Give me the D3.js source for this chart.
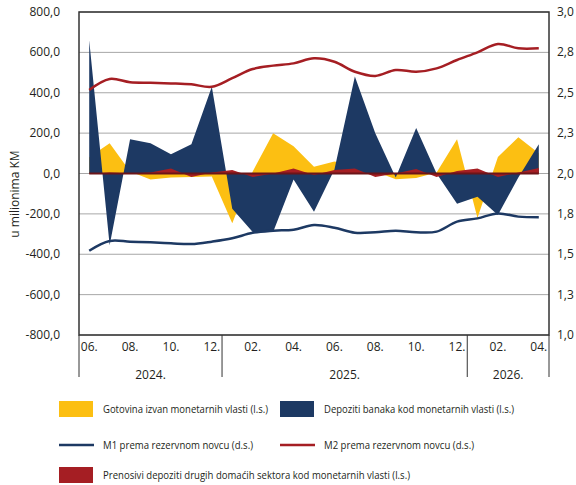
<!DOCTYPE html>
<html>
<head>
<meta charset="utf-8">
<script src="https://cdn.jsdelivr.net/npm/d3@7"></script>
<style>
  html, body { margin: 0; padding: 0; background: #fff; overflow: hidden; }
  svg { display: block; }
  svg text { font-family: "Open Sans", "Noto Sans", sans-serif; fill: #231f20; }
</style>
</head>
<body>
<svg id="chart" width="576" height="485"></svg>
<script>
// months from 06.2024 to 04.2026
const months = ["2024-06","2024-07","2024-08","2024-09","2024-10","2024-11","2024-12",
  "2025-01","2025-02","2025-03","2025-04","2025-05","2025-06","2025-07","2025-08","2025-09","2025-10","2025-11","2025-12",
  "2026-01","2026-02","2026-03","2026-04"];
const monthTickLabels = ["06.","08.","10.","12.","02.","04.","06.","08.","10.","12.","02.","04."];
const years = ["2024.", "2025.", "2026."];

// left axis (mil. KM)
const gotovina = [80, 150, 10, -30, -20, -17, -15, -246, 10, 200, 135, 33, 60, 40, 10, -28, -22, 5, 170, -220, 82, 180, 100];
const depozitiBanaka = [660, -355, 170, 150, 95, 145, 430, -175, -290, -290, -30, -190, 20, 480, 200, -20, 225, 0, -150, -115, -205, -20, 145];
const prenosiviDepoziti = [-3, 5, 0, 5, 25, -17, 5, 17, -17, 0, 25, -8, 17, 25, -17, 0, 22, -17, 12, 25, -17, 5, 27];

// right axis
const m1 = [1.522, 1.582, 1.578, 1.574, 1.568, 1.563, 1.578, 1.599, 1.633, 1.646, 1.652, 1.681, 1.664, 1.633, 1.636, 1.646, 1.636, 1.640, 1.702, 1.722, 1.753, 1.733, 1.729];
const m2 = [2.517, 2.585, 2.565, 2.562, 2.558, 2.552, 2.537, 2.590, 2.647, 2.668, 2.682, 2.713, 2.692, 2.630, 2.604, 2.641, 2.630, 2.651, 2.703, 2.750, 2.802, 2.775, 2.775];

const leftTicks = [-800, -600, -400, -200, 0, 200, 400, 600, 800];
const rightTicks = [1, 1.25, 1.5, 1.75, 2, 2.25, 2.5, 2.75, 3];

const colors = { yellow: "#fcbf12", navy: "#1d3963", red: "#a51e23", zero: "#6b1519", grid: "#a7a7a7", axis: "#333" };

const svg = d3.select("#chart");
const margin = { top: 12, right: 27, bottom: 150, left: 79 };
const width = 576, height = 485;
const innerWidth = width - margin.left - margin.right;
const innerHeight = height - margin.top - margin.bottom;

const x = d3.scalePoint().domain(months).range([0, innerWidth]).padding(0.5);
const step = x.step();
const yLeft = d3.scaleLinear().domain([-800, 800]).range([innerHeight, 0]);
const yRight = d3.scaleLinear().domain([1, 3]).range([innerHeight, 0]);

const comma1 = v => v.toFixed(1).replace(".", ",");

const chart = svg.append("g").attr("transform", `translate(${margin.left},${margin.top})`);

// gridlines
chart.append("g")
  .selectAll("line")
  .data(leftTicks)
  .join("line")
  .attr("x1", 0).attr("x2", innerWidth)
  .attr("y1", d => yLeft(d)).attr("y2", d => yLeft(d))
  .attr("stroke", colors.grid).attr("stroke-width", 1);

// areas from zero, drawn over each other
const area = vals => d3.area()
  .x((d, i) => x(months[i]))
  .y0(yLeft(0))
  .y1(d => yLeft(d))(vals);

chart.append("path").attr("d", area(gotovina)).attr("fill", colors.yellow);
chart.append("path").attr("d", area(depozitiBanaka)).attr("fill", colors.navy);
chart.append("path").attr("d", area(prenosiviDepoziti)).attr("fill", colors.red);

// zero line
chart.append("line")
  .attr("x1", x(months[0])).attr("x2", x(months[months.length - 1]))
  .attr("y1", yLeft(0)).attr("y2", yLeft(0))
  .attr("stroke", colors.zero).attr("stroke-width", 2);

// ratio lines (right axis)
const line = d3.line()
  .x((d, i) => x(months[i]))
  .y(d => yRight(d))
  .curve(d3.curveCatmullRom.alpha(0.5));

chart.append("path").attr("d", line(m1)).attr("fill", "none")
  .attr("stroke", colors.navy).attr("stroke-width", 2.5);
chart.append("path").attr("d", line(m2)).attr("fill", "none")
  .attr("stroke", colors.red).attr("stroke-width", 2.5);

// frame
chart.append("rect")
  .attr("x", 0).attr("y", 0)
  .attr("width", innerWidth).attr("height", innerHeight)
  .attr("fill", "none").attr("stroke", colors.axis).attr("stroke-width", 1.5);

// left axis labels
chart.append("g")
  .attr("font-size", 12)
  .selectAll("text")
  .data(leftTicks)
  .join("text")
  .attr("x", -19)
  .attr("y", d => yLeft(d) + 4)
  .attr("text-anchor", "end")
  .text(comma1);

// right axis labels
chart.append("g")
  .attr("font-size", 12)
  .selectAll("text")
  .data(rightTicks)
  .join("text")
  .attr("x", innerWidth + 8)
  .attr("y", d => yRight(d) + 4)
  .text(comma1);

// y-axis title
chart.append("text")
  .attr("transform", `translate(${19 - margin.left},${182}) rotate(-90)`)
  .attr("text-anchor", "middle")
  .attr("font-size", 12)
  .text("u milionima KM");

// month labels every second month
chart.append("g")
  .attr("font-size", 12)
  .selectAll("text")
  .data(months.filter((m, i) => i % 2 === 0))
  .join("text")
  .attr("x", d => x(d))
  .attr("y", innerHeight + 16)
  .attr("text-anchor", "middle")
  .text((d, i) => monthTickLabels[i]);

// year separators
const sepX = [0, x("2024-12") + step / 2, x("2025-12") + step / 2, innerWidth];
chart.append("g")
  .selectAll("line")
  .data(sepX)
  .join("line")
  .attr("x1", d => d).attr("x2", d => d)
  .attr("y1", innerHeight).attr("y2", innerHeight + 42)
  .attr("stroke", colors.axis).attr("stroke-width", 1);

chart.append("g")
  .attr("font-size", 12)
  .selectAll("text")
  .data(years)
  .join("text")
  .attr("x", (d, i) => (sepX[i] + sepX[i + 1]) / 2)
  .attr("y", innerHeight + 44)
  .attr("text-anchor", "middle")
  .text(d => d);

// legend (text widths squeezed to match the condensed original font)
const legendItems = [
  { label: "Gotovina izvan monetarnih vlasti (l.s.)", type: "rect", color: colors.yellow, x: 59, y: 409, w: 165 },
  { label: "Depoziti banaka kod monetarnih vlasti (l.s.)", type: "rect", color: colors.navy, x: 280, y: 409, w: 190 },
  { label: "M1 prema rezervnom novcu (d.s.)", type: "line", color: colors.navy, x: 59, y: 445, w: 150 },
  { label: "M2 prema rezervnom novcu (d.s.)", type: "line", color: colors.red, x: 280, y: 445, w: 150 },
  { label: "Prenosivi depoziti drugih domaćih sektora kod monetarnih vlasti (l.s.)", type: "rect", color: colors.red, x: 59, y: 475, w: 307 }
];

const legend = svg.append("g").attr("font-size", 11.5);
legendItems.forEach(item => {
  if (item.type === "rect") {
    legend.append("rect")
      .attr("x", item.x).attr("y", item.y - 8)
      .attr("width", 34).attr("height", 16)
      .attr("fill", item.color);
  } else {
    legend.append("line")
      .attr("x1", item.x).attr("x2", item.x + 35)
      .attr("y1", item.y).attr("y2", item.y)
      .attr("stroke", item.color).attr("stroke-width", 2.5);
  }
  legend.append("text")
    .attr("x", item.x + 44)
    .attr("y", item.y + 4)
    .attr("textLength", item.w)
    .attr("lengthAdjust", "spacingAndGlyphs")
    .text(item.label);
});
</script>
</body>
</html>
